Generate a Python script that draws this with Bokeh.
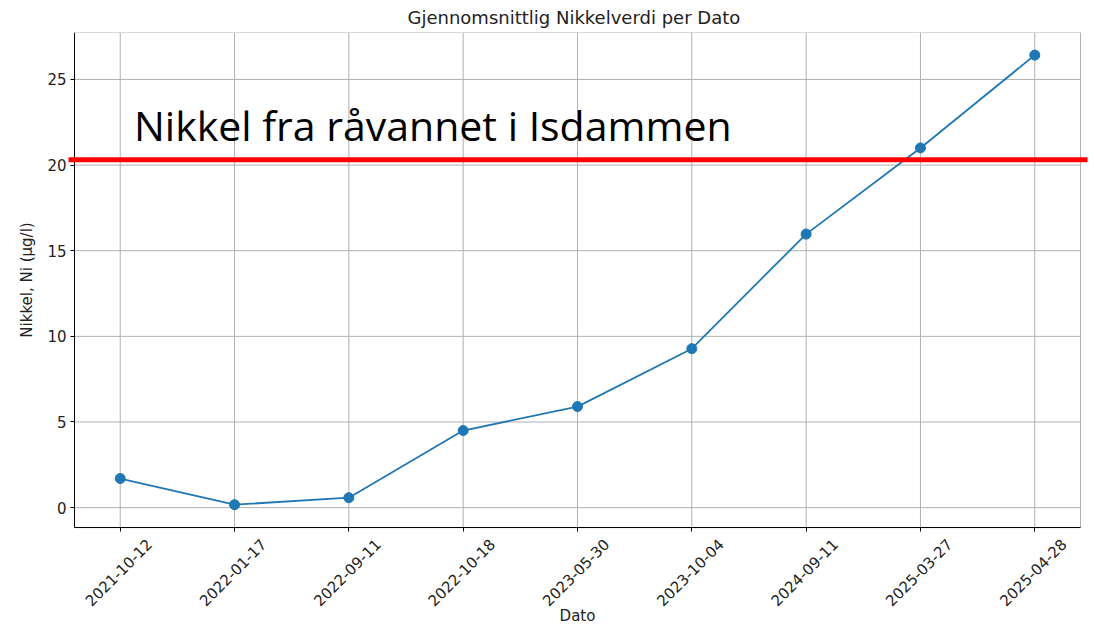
import math
from bokeh.plotting import figure
from bokeh.models import Range1d, FixedTicker, Label, BoxAnnotation, ColumnDataSource
from bokeh.embed import file_html
from bokeh.resources import INLINE

dates = ["2021-10-12", "2022-01-17", "2022-09-11", "2022-10-18", "2023-05-30",
         "2023-10-04", "2024-09-11", "2025-03-27", "2025-04-28"]
nickel = [1.70, 0.17, 0.58, 4.50, 5.90, 9.28, 15.97, 21.00, 26.42]
y_ticks = [0, 5, 10, 15, 20, 25]
threshold = 20.31
title_text = "Gjennomsnittlig Nikkelverdi per Dato"
annotation_text = "Nikkel fra råvannet i Isdammen"
x_label = "Dato"
y_label = "Nikkel, Ni (µg/l)"

positions = list(range(len(dates)))
source = ColumnDataSource(dict(x=positions, y=nickel, date=dates))

FONT = "DejaVu Sans"
W, H = 1094, 626
# axes box (matplotlib-like) inside the canvas
BOX_L, BOX_R, BOX_T, BOX_B = 74, 1080, 31, 527
X_MIN, X_MAX = -0.4, len(dates) - 1 + 0.4
Y_MIN, Y_MAX = -1.17, 27.74
px_x = (BOX_R - BOX_L) / (X_MAX - X_MIN)
px_y = (BOX_B - BOX_T) / (Y_MAX - Y_MIN)
x_start = X_MIN - BOX_L / px_x
x_end = X_MAX + (W - BOX_R) / px_x
y_start = Y_MIN - (H - BOX_B) / px_y

p = figure(width=W, height=H, output_backend="svg", toolbar_location=None,
           x_range=Range1d(x_start, x_end), y_range=Range1d(y_start, Y_MAX),
           min_border_left=0, min_border_right=0, min_border_top=BOX_T, min_border_bottom=0,
           title=title_text)
p.background_fill_color = "white"
p.border_fill_color = "white"
p.outline_line_color = None

# title centred over the axes box (not the whole canvas)
p.title.align = "left"
p.title.offset = 407
p.title.text_font = FONT
p.title.text_font_size = "18px"
p.title.text_font_style = "normal"
p.title.text_color = "#222222"
p.title.standoff = 9

# axes pinned to the box edges
p.xaxis.fixed_location = Y_MIN
p.xaxis.bounds = (X_MIN, X_MAX)
p.yaxis.fixed_location = X_MIN
p.yaxis.bounds = (Y_MIN, Y_MAX)
p.xaxis.ticker = FixedTicker(ticks=positions)
p.xaxis.major_label_overrides = {i: "" for i in positions}
p.yaxis.ticker = FixedTicker(ticks=y_ticks)
for ax in (p.xaxis[0], p.yaxis[0]):
    ax.major_label_text_font = FONT
    ax.major_label_text_font_size = "15px"
    ax.major_label_text_color = "#222222"
    ax.axis_label_text_font = FONT
    ax.axis_label_text_font_size = "15px"
    ax.axis_label_text_font_style = "normal"
    ax.axis_label_text_color = "#222222"
    ax.axis_line_color = "black"
    ax.major_tick_line_color = "black"
    ax.major_tick_out = 4
    ax.major_tick_in = 0
    ax.minor_tick_line_color = None
    ax.major_label_standoff = 4
p.xaxis.axis_label = x_label
p.yaxis.axis_label = y_label
p.xaxis.axis_label_standoff = 75
p.yaxis.axis_label_standoff = 8

# grid limited to the box
p.xgrid.visible = False
p.ygrid.visible = False
p.segment(x0=positions, y0=[Y_MIN] * len(positions), x1=positions, y1=[Y_MAX] * len(positions),
          line_color="#b0b0b0", line_width=1)
p.segment(x0=[X_MIN] * len(y_ticks), y0=y_ticks, x1=[X_MAX] * len(y_ticks), y1=y_ticks,
          line_color="#b0b0b0", line_width=1)

# box outline
p.add_layout(BoxAnnotation(left=X_MIN, right=X_MAX, bottom=Y_MIN, top=Y_MAX,
                           fill_color=None, fill_alpha=0, line_color="black", line_width=1,
                           level="underlay"))

p.line("x", "y", source=source, line_color="#1f77b4", line_width=1.8)
p.scatter("x", "y", source=source, size=10, fill_color="#1f77b4", line_color="#1f77b4")

# rotated, centred date labels under each tick (matplotlib-style)
for xpos, d in zip(positions, dates):
    p.add_layout(Label(x=xpos, y=Y_MIN, text=d, x_offset=-2, y_offset=-44.5,
                       angle=math.pi / 4, text_align="center", text_baseline="middle",
                       text_font=FONT, text_font_size="15px", text_color="#222222"))

red = BoxAnnotation(left=68, right=1087, left_units="canvas", right_units="canvas",
                    bottom=threshold - 0.145, top=threshold + 0.145,
                    fill_color="red", fill_alpha=1.0, line_color=None, level="overlay")
p.add_layout(red)

lab = Label(x=0.12, y=22.32, text=annotation_text, text_font="Open Sans",
            text_font_size="41px", text_color="black", text_baseline="alphabetic")
p.add_layout(lab)

open("out.html", "w").write(file_html(p, INLINE))
